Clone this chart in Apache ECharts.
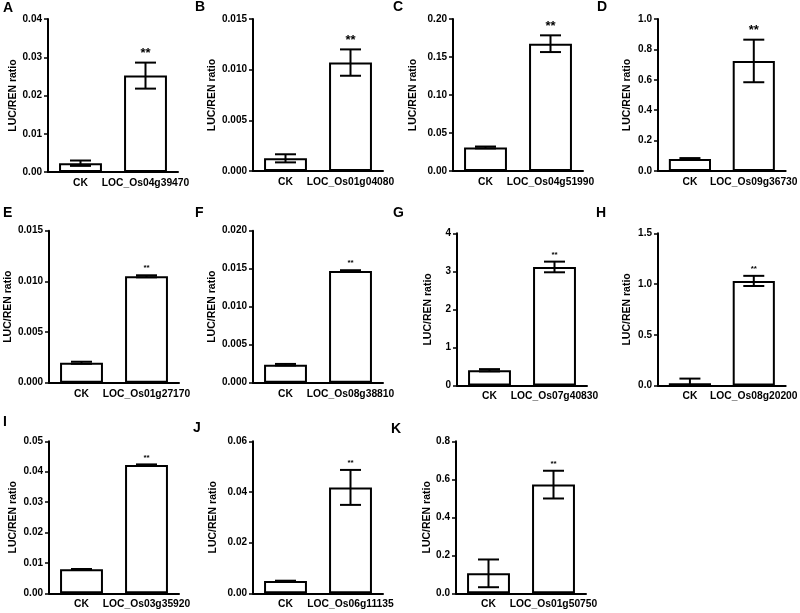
<!DOCTYPE html>
<html>
<head>
<meta charset="utf-8">
<script src="https://cdn.jsdelivr.net/npm/echarts@6/dist/echarts.min.js"></script>
<style>
html,body{margin:0;padding:0;background:#fff;}
#main{width:800px;height:613px;}
</style>
</head>
<body>
<div id="main"></div>
<script>
// ---- data ----
const panelLetters = ['A','B','C','D','E','F','G','H','I','J','K'];
const controlLabel = 'CK';
const genes = ['LOC_Os04g39470','LOC_Os01g04080','LOC_Os04g51990','LOC_Os09g36730',
  'LOC_Os01g27170','LOC_Os08g38810','LOC_Os07g40830','LOC_Os08g20200',
  'LOC_Os03g35920','LOC_Os06g11135','LOC_Os01g50750'];
const ckMeans   = [0.0023, 0.00125, 0.031, 0.079, 0.00197, 0.00237, 0.403, 0.023, 0.0079, 0.00487, 0.105];
const ckErrors  = [0.0007, 0.0004, 0.0012, 0.006, 0.0001, 0.0001, 0.03, 0.046, 0.0001, 0.0001, 0.073];
const geneMeans = [0.0252, 0.0107, 0.1675, 0.724, 0.0105, 0.0147, 3.116, 1.031, 0.0422, 0.0418, 0.572];
const geneErrors= [0.0034, 0.0013, 0.011, 0.14, 0.0001, 0.0001, 0.14, 0.05, 0.0002, 0.0069, 0.073];
const yMax      = [0.04, 0.015, 0.20, 1.0, 0.015, 0.020, 4, 1.5, 0.05, 0.06, 0.8];
const yInterval = [0.01, 0.005, 0.05, 0.2, 0.005, 0.005, 1, 0.5, 0.01, 0.02, 0.2];
const yDecimals = [2, 3, 2, 1, 3, 3, 0, 1, 2, 2, 1];
const significance = ['**','**','**','**','**','**','**','**','**','**','**'];
const yAxisName = 'LUC/REN ratio';

// ---- layout (pixels) ----
const gridLeft   = [48, 253, 453, 658, 49, 253, 457, 658, 49, 253, 456];
const gridTop    = [19, 19, 19, 19, 230.7, 230.7, 233.3, 233.3, 441.3, 441.3, 441.3];
const gridHeight = [153, 152, 152, 152, 152, 152, 152.3, 152.3, 152, 152, 152];
const nameGaps   = [29, 34, 34, 25, 35, 34, 23, 25, 30, 34, 23];
const letterPos  = [[3,9],[195,8],[393,8],[597,8],[3,214],[195,214],[393,214],[596,214],[3,423],[193,429],[391,430]];
const FONT = '"Liberation Sans", Arial, Helvetica, sans-serif';

const grid = [], xAxis = [], yAxis = [], series = [], graphic = [];

panelLetters.forEach((letter, i) => {
  grid.push({left: gridLeft[i], top: gridTop[i], width: 130, height: gridHeight[i], containLabel: false});
  xAxis.push({
    type: 'category', gridIndex: i, data: [controlLabel, genes[i]],
    axisLine: {lineStyle: {color: '#000', width: 2}},
    axisTick: {alignWithLabel: true, length: 4, lineStyle: {color: '#000', width: 1.5}},
    axisLabel: {color: '#000', fontFamily: FONT, fontWeight: 'bold', fontSize: 10.3, margin: 6, interval: 0},
    splitLine: {show: false}
  });
  const dec = yDecimals[i];
  yAxis.push({
    type: 'value', gridIndex: i, min: 0, max: yMax[i], interval: yInterval[i],
    name: yAxisName, nameLocation: 'middle', nameRotate: 90, nameGap: nameGaps[i],
    nameTextStyle: {color: '#000', fontFamily: FONT, fontWeight: 'bold', fontSize: 10.5},
    axisLine: {show: true, lineStyle: {color: '#000', width: 2}},
    axisTick: {show: true, length: 4, lineStyle: {color: '#000', width: 1.5}},
    axisLabel: {color: '#000', fontFamily: FONT, fontWeight: 'bold', fontSize: 10, margin: 6,
      formatter: v => v.toFixed(dec)},
    splitLine: {show: false}
  });
  series.push({
    type: 'bar', xAxisIndex: i, yAxisIndex: i, barWidth: '66%',
    data: [ckMeans[i], geneMeans[i]],
    itemStyle: {color: '#fff', borderColor: '#000', borderWidth: 2},
    silent: true, animation: false
  });
  const sigFont = i < 4 ? 13 : 8;
  const sigOffset = i < 4 ? 9 : 7;
  series.push({
    type: 'custom', xAxisIndex: i, yAxisIndex: i, z: 5, animation: false, silent: true,
    data: [[0, ckMeans[i], ckErrors[i]], [1, geneMeans[i], geneErrors[i]]],
    renderItem: function (params, api) {
      const c = api.value(0), m = api.value(1), e = api.value(2);
      const lowVal = Math.max(0, m - e);
      const top = api.coord([c, m + e]);
      const bot = api.coord([c, lowVal]);
      const half = 10.5;
      const st = {stroke: '#000', lineWidth: 2};
      const children = [
        {type: 'line', shape: {x1: top[0], y1: top[1], x2: bot[0], y2: bot[1]}, style: st},
        {type: 'line', shape: {x1: top[0]-half, y1: top[1], x2: top[0]+half, y2: top[1]}, style: st}
      ];
      if (m - e >= 0) {
        children.push({type: 'line', shape: {x1: bot[0]-half, y1: bot[1], x2: bot[0]+half, y2: bot[1]}, style: st});
      }
      if (params.dataIndex === 1) {
        children.push({type: 'text', style: {text: significance[i], x: top[0], y: top[1] - sigOffset,
          align: 'center', verticalAlign: 'middle', fill: '#000',
          font: 'bold ' + sigFont + 'px ' + FONT}});
      }
      return {type: 'group', children: children};
    }
  });
  graphic.push({type: 'text', left: letterPos[i][0], top: letterPos[i][1] - 8,
    style: {text: letter, fill: '#000', font: 'bold 14px ' + FONT}});
});

const chart = echarts.init(document.getElementById('main'), null, {renderer: 'canvas'});
chart.setOption({animation: false, backgroundColor: '#fff', grid, xAxis, yAxis, series, graphic});
</script>
</body>
</html>
